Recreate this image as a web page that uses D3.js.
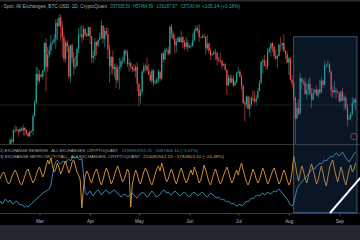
<!DOCTYPE html>
<html>
<head>
<meta charset="utf-8">
<script src="https://cdn.jsdelivr.net/npm/d3@7"></script>
<style>
  html, body { margin: 0; padding: 0; background: #000; overflow: hidden; }
</style>
</head>
<body>
<div id="chart"></div>
<script>
// BTC daily candles (k USD), first close is the open of the first candle (Feb 5, 2024)
const closes = [42.6,
  42.7, 43.1, 44.3, 45.3, 47.1, 47.8, 48.3,
  50.0, 49.7, 51.8, 52.0, 51.9, 51.6, 52.1,
  51.8, 52.3, 51.8, 51.3, 50.7, 51.6, 51.7,
  54.5, 57.1, 62.5, 61.2,
  62.4, 62.0, 63.1, 68.3, 63.8, 66.1, 66.9, 68.3, 68.5, 69.0,
  72.1, 71.5, 73.1, 71.4, 69.4, 65.3, 68.4, 67.6, 62.0, 67.9,
  65.5, 63.8, 64.0, 67.2, 69.9, 69.9, 69.4, 71.0, 69.9, 69.6, 71.3,
  69.6, 65.5, 65.9, 68.5, 67.8, 68.9, 69.4, 71.6, 69.1, 70.6,
  70.0, 67.1, 63.9, 65.7, 63.4, 63.8, 61.3, 63.5, 63.8, 64.9,
  64.9, 66.8, 66.4, 64.3, 64.5, 63.8, 63.4, 63.1, 63.8, 60.6,
  58.3, 59.1, 62.9, 63.9, 64.0, 63.2, 62.3, 61.2, 63.1, 60.8,
  60.8, 61.5, 62.9, 61.6, 66.3, 65.2, 67.0, 67.0, 66.3, 71.4,
  70.1, 69.1, 67.9, 68.5, 69.3, 68.5, 69.4, 68.4, 67.6, 68.4, 67.5,
  67.8, 67.8, 68.8, 70.6, 71.1, 70.8, 69.4, 69.3, 69.6, 69.5,
  67.3, 68.2, 66.8, 66.0, 66.2, 66.6, 66.5, 65.2, 65.0, 64.9,
  64.1, 64.3, 63.2, 60.3, 61.8, 60.9, 61.6, 60.3, 60.9, 62.7,
  62.9, 62.0, 60.2, 57.0, 56.7, 58.2, 55.9, 56.7, 57.9, 57.7,
  57.3, 57.9, 59.2, 60.8, 64.8, 65.0, 64.1, 63.9, 66.7, 67.2,
  68.2, 67.6, 65.9, 65.4, 65.8, 68.0, 67.9, 68.3, 66.8, 66.2, 64.6,
  65.4, 61.4, 60.7, 58.1, 54.0, 56.0, 55.0, 61.7, 60.9, 60.9,
  58.7, 59.4, 60.6, 58.7, 57.6, 58.9, 59.5, 58.4, 59.5, 59.0,
  61.2, 60.4, 64.1, 64.2, 64.2, 62.8, 59.4, 59.0, 59.4, 59.1, 58.9,
  57.3, 59.1, 57.5, 58.0, 56.2, 53.9, 54.2, 54.9, 57.0, 57.6, 57.1];

const highs = [
  43.5, 43.4, 44.5, 45.6, 48.2, 48.2, 48.6,
  50.3, 50.4, 52.0, 52.8, 52.6, 52.0, 52.4,
  52.4, 52.9, 52.4, 52.0, 51.5, 51.7, 51.9,
  54.9, 57.5, 63.9, 63.7,
  63.2, 62.5, 63.2, 68.5, 69.2, 67.6, 67.9, 69.9, 68.8, 70.0,
  72.8, 72.9, 73.6, 73.8, 72.4, 70.0, 68.8, 68.9, 68.1, 68.0,
  68.2, 66.6, 65.9, 67.6, 71.1, 71.5, 71.7, 71.5, 71.0, 70.3, 71.4,
  71.3, 69.6, 66.9, 69.3, 68.7, 69.0, 70.3, 72.7, 71.7, 71.2,
  71.3, 71.2, 67.9, 65.8, 66.9, 64.3, 64.5, 64.1, 65.5, 65.4,
  65.7, 67.2, 67.2, 67.0, 65.3, 64.8, 63.9, 64.4, 64.2, 64.7,
  60.8, 59.6, 63.3, 64.5, 64.4, 65.5, 64.3, 62.9, 63.4, 63.4,
  61.4, 61.8, 63.4, 63.0, 66.5, 66.7, 67.4, 67.4, 67.6, 71.5,
  71.9, 70.6, 70.0, 69.2, 69.6, 69.5, 70.6, 69.6, 68.9, 69.5, 69.0,
  67.9, 68.4, 70.2, 71.0, 71.7, 71.6, 71.9, 69.5, 69.9, 70.1,
  69.6, 69.9, 68.4, 67.3, 66.4, 66.9, 67.2, 66.6, 65.7, 66.5,
  65.1, 64.5, 64.5, 63.4, 62.3, 62.4, 62.3, 62.2, 61.2, 62.9,
  63.8, 63.3, 62.3, 60.5, 57.5, 58.4, 58.4, 58.2, 58.3, 59.4,
  59.2, 58.5, 59.8, 61.3, 64.9, 65.4, 66.1, 65.1, 67.4, 67.6,
  68.4, 68.5, 67.8, 67.1, 66.1, 68.2, 69.4, 68.3, 70.0, 66.9, 66.8,
  65.6, 65.6, 62.2, 61.1, 58.2, 57.0, 57.7, 62.7, 61.7, 61.4,
  61.8, 60.6, 61.5, 61.8, 59.8, 59.8, 59.6, 60.2, 59.6, 61.4,
  61.8, 61.4, 64.9, 64.5, 65.0, 64.5, 63.2, 60.2, 61.1, 59.9, 59.4,
  59.0, 59.4, 59.8, 58.5, 58.3, 56.9, 54.8, 55.3, 58.1, 58.0, 57.9];

const lows = [
  42.5, 42.6, 42.8, 44.3, 45.2, 46.8, 47.7,
  47.7, 48.3, 49.3, 51.3, 51.6, 50.6, 51.2,
  51.7, 50.8, 50.8, 50.9, 50.5, 50.6, 51.3,
  50.9, 54.4, 56.7, 60.4,
  60.8, 61.7, 61.4, 62.9, 59.2, 62.9, 65.6, 66.1, 68.0, 68.2,
  67.2, 68.8, 71.3, 68.6, 65.6, 64.8, 64.6, 66.6, 61.5, 60.8,
  64.5, 62.3, 63.3, 63.8, 66.4, 69.5, 68.4, 68.9, 69.6, 69.5, 69.6,
  68.1, 64.6, 64.5, 65.1, 66.0, 67.5, 68.8, 69.1, 68.2, 67.5,
  69.6, 65.3, 60.8, 62.3, 62.4, 61.8, 59.8, 60.8, 59.6, 63.2,
  64.3, 64.5, 65.8, 63.8, 62.8, 63.3, 62.8, 62.9, 61.8, 59.2,
  56.5, 56.9, 58.8, 62.6, 63.0, 62.9, 62.2, 60.9, 60.6, 60.2,
  60.5, 60.6, 60.8, 61.1, 61.3, 64.6, 65.1, 66.7, 65.9, 66.1,
  69.2, 68.9, 66.3, 66.6, 68.5, 68.4, 68.3, 67.3, 67.1, 67.2, 66.7,
  67.4, 67.3, 67.6, 68.6, 70.4, 70.2, 68.5, 69.2, 69.2, 69.2,
  66.1, 66.9, 66.3, 65.1, 65.9, 66.1, 65.1, 64.1, 64.7, 64.5,
  63.4, 63.9, 63.2, 58.5, 60.3, 60.7, 60.6, 60.0, 60.3, 60.7,
  62.5, 61.8, 59.5, 56.8, 53.5, 56.1, 55.8, 54.3, 56.4, 57.2,
  57.0, 56.6, 57.8, 59.2, 60.6, 62.6, 63.9, 63.3, 63.3, 66.4,
  65.8, 66.6, 65.4, 65.1, 63.5, 65.8, 66.7, 67.1, 66.6, 65.3, 64.5,
  62.3, 61.2, 59.9, 57.3, 49.0, 54.0, 54.6, 54.8, 59.6, 60.4,
  58.5, 57.7, 58.5, 58.4, 56.1, 57.5, 58.8, 58.4, 57.9, 58.6,
  58.8, 59.8, 60.3, 63.6, 63.8, 62.7, 58.1, 57.9, 58.8, 57.8, 58.8,
  57.2, 57.1, 57.4, 55.6, 55.7, 52.6, 53.8, 53.7, 54.6, 56.4, 55.6];

// Exchange reserve (M) and exchange netflow, one value per day from Feb 5
const reserve = [
  2147, 2149, 2146, 2148, 2151, 2149, 2148, 2150, 2147, 2146,
  2148, 2149, 2147, 2145, 2146, 2144, 2143, 2144, 2143, 2145,
  2146, 2148, 2149, 2151, 2152, 2154, 2155, 2157, 2158, 2159,
  2160, 2161, 2165, 2175, 2184, 2188, 2190, 2187, 2186, 2188,
  2189, 2187, 2190, 2191, 2189, 2192, 2193, 2192, 2194, 2191,
  2190, 2192, 2175, 2158, 2155, 2157, 2159, 2156, 2154, 2157,
  2159, 2160, 2158, 2155, 2157, 2159, 2160, 2158, 2156, 2158,
  2159, 2160, 2158, 2157, 2155, 2153, 2154, 2156, 2155, 2153,
  2154, 2156, 2157, 2155, 2153, 2152, 2154, 2156, 2158, 2157,
  2155, 2153, 2154, 2157, 2159, 2157, 2155, 2153, 2154, 2156,
  2158, 2160, 2159, 2157, 2158, 2156, 2155, 2157, 2159, 2158,
  2156, 2154, 2155, 2157, 2158, 2156, 2154, 2153, 2155, 2157,
  2158, 2156, 2154, 2155, 2157, 2158, 2156, 2154, 2153, 2155,
  2157, 2156, 2154, 2153, 2152, 2153, 2151, 2150, 2151, 2149,
  2148, 2149, 2147, 2146, 2147, 2145, 2144, 2145, 2146, 2144,
  2145, 2147, 2149, 2148, 2150, 2152, 2151, 2153, 2154, 2155,
  2154, 2156, 2157, 2155, 2156, 2158, 2157, 2156, 2158, 2159,
  2158, 2160, 2161, 2159, 2157, 2155, 2153, 2151, 2148, 2145,
  2144, 2146, 2154, 2161, 2164, 2166, 2168, 2170, 2172, 2174,
  2176, 2178, 2180, 2182, 2181, 2184, 2185, 2187, 2186, 2188,
  2190, 2189, 2191, 2192, 2194, 2193, 2195, 2197, 2196, 2194,
  2196, 2198, 2195, 2192, 2190, 2188, 2191, 2193, 2196, 2198];

const netflow = [
  -3, 0, 4, 6, 2, -3, -6, -4, 1, 5,
  8, 5, 0, -5, -7, -3, 2, 7, 9, 4,
  -1, -5, -2, 3, 8, 11, 6, 1, 5, 12,
  18, 14, 20, 12, 6, 9, 15, 10, 4, 8,
  13, 17, 11, 5, 9, 16, 18, 12, 6, 3,
  -2, -30, -10, 2, 7, 4, -2, -5, 1, 6,
  9, 4, -3, -7, -2, 5, 10, 6, 0, -6,
  -3, 3, 8, 12, 7, 1, -4, -1, 4, 9,
  5, -29, -6, 2, 8, 4, -3, -6, 0, 6,
  10, 7, 2, -4, -7, -2, 4, 9, 12, 7,
  15, 9, 2, -4, -1, 5, 9, 4, -2, -6,
  -1, 6, 10, 5, -1, -5, -2, 4, 8, 3,
  11, 7, 1, -5, -2, 5, 13, 8, 2, -4,
  -7, -1, 5, 9, 4, -2, -6, -3, 3, 7,
  11, 6, 0, -5, -2, 4, 8, 3, 10, 15,
  8, 2, -4, -7, -3, 3, 9, 5, -1, -5,
  -2, 4, 10, 6, 0, -6, -3, 2, 7, 10,
  5, -1, -6, -3, 3, 8, 4, -2, -7, -4,
  6, 22, 14, 4, -3, 5, 12, 7, 0, -5,
  2, 9, 14, 8, 1, -6, -2, 6, 12, 5,
  -3, -8, 1, 10, 15, 18, 9, 2, -4, 3,
  11, 6, -2, -7, 0, 8, 13, 6, 9, 15];

const monthTicks = ["2024-03-01", "2024-04-01", "2024-05-01", "2024-06-01", "2024-07-01", "2024-08-01", "2024-09-01"];
const priceLevel = 56.6;
const zoneStart = "2024-08-04";

const width = 360, height = 240;
const font = "'Liberation Sans', Arial, sans-serif";
const upColor = "#26a69a", downColor = "#ef5350";
const reserveColor = "#3f93bb", netflowColor = "#e39a3b";

const firstDay = new Date(2024, 1, 5);
const dates = highs.map((_, i) => d3.timeDay.offset(firstDay, i));
const candles = highs.map((h, i) => ({
  date: dates[i], open: closes[i], close: closes[i + 1], high: h, low: lows[i]
}));
const parseDay = d3.timeParse("%Y-%m-%d");

const svg = d3.select("#chart").append("svg")
  .attr("width", width)
  .attr("height", height)
  .style("display", "block")
  .style("font-family", font);

svg.append("rect").attr("width", width).attr("height", height).attr("fill", "#000");
svg.append("rect").attr("width", width).attr("height", 1.5).attr("fill", "#2e2e2e");

// Scales
const x = d3.scaleTime().domain([new Date(2024, 2, 1), new Date(2024, 8, 1)]).range([39.5, 339.3]);
const yPrice = d3.scaleLinear().domain([50, 75]).range([140, 7.6]);
const yReserve = d3.scaleLinear().domain([2135, 2200]).range([215, 150]);
const yNetflow = d3.scaleLinear().domain([-37, 28]).range([215, 150]);

const defs = svg.append("defs");
defs.append("clipPath").attr("id", "pricePane")
  .append("rect").attr("x", 0).attr("y", 0).attr("width", width).attr("height", 144);
defs.append("clipPath").attr("id", "lowerPane")
  .append("rect").attr("x", 0).attr("y", 145).attr("width", width).attr("height", 68.5);

// price pane
const pricePane = svg.append("g").attr("clip-path", "url(#pricePane)");

pricePane.append("line")
  .attr("x1", 0).attr("x2", width)
  .attr("y1", yPrice(priceLevel)).attr("y2", yPrice(priceLevel))
  .attr("stroke", "rgba(120,140,140,0.35)")
  .attr("stroke-width", 0.6);

const candle = pricePane.selectAll("g.candle")
  .data(candles)
  .join("g")
  .attr("class", "candle")
  .attr("fill", d => d.close >= d.open ? upColor : downColor)
  .attr("stroke", d => d.close >= d.open ? upColor : downColor);

candle.append("line")
  .attr("x1", d => x(d.date)).attr("x2", d => x(d.date))
  .attr("y1", d => yPrice(d.high)).attr("y2", d => yPrice(d.low))
  .attr("stroke-width", 0.6);

candle.append("rect")
  .attr("x", d => x(d.date) - 0.6)
  .attr("width", 1.2)
  .attr("y", d => yPrice(Math.max(d.open, d.close)))
  .attr("height", d => Math.max(0.5, Math.abs(yPrice(d.open) - yPrice(d.close))))
  .attr("stroke", "none");

// pane separator
svg.append("line")
  .attr("x1", 0).attr("x2", width).attr("y1", 144.5).attr("y2", 144.5)
  .attr("stroke", "#333").attr("stroke-width", 1);

// lower pane
const lowerPane = svg.append("g").attr("clip-path", "url(#lowerPane)");

lowerPane.append("path")
  .datum(reserve)
  .attr("d", d3.line().x((d, i) => x(dates[i])).y(d => yReserve(d)))
  .attr("fill", "none")
  .attr("stroke", reserveColor)
  .attr("stroke-width", 0.9);

lowerPane.append("path")
  .datum(netflow)
  .attr("d", d3.line().x((d, i) => x(dates[i])).y(d => yNetflow(d)))
  .attr("fill", "none")
  .attr("stroke", netflowColor)
  .attr("stroke-width", 0.9);

// x axis
const xAxis = d3.axisBottom(x)
  .tickValues(monthTicks.map(parseDay))
  .tickFormat(d3.timeFormat("%b"))
  .tickSize(2)
  .tickPadding(4)
  .tickSizeOuter(0);

const axis = svg.append("g")
  .attr("transform", "translate(0,213.5)")
  .call(xAxis);
axis.select(".domain").attr("stroke", "#3a3a3a").attr("d", `M0,0H${width}`);
axis.selectAll(".tick line").attr("stroke", "#555");
axis.selectAll(".tick text")
  .attr("fill", "#b2b5be")
  .style("font-size", "4.6px")
  .style("font-family", font);

// bottom toolbar
svg.append("rect").attr("x", 0).attr("y", 225).attr("width", width).attr("height", 15).attr("fill", "#23262e");

// highlighted zone
const zoneX = x(parseDay(zoneStart));
svg.append("rect")
  .attr("x", zoneX)
  .attr("y", 36.8)
  .attr("width", 357 - zoneX)
  .attr("height", 212.6 - 36.8)
  .attr("fill", "rgba(50,100,170,0.22)")
  .attr("stroke", "rgba(80,115,170,0.85)")
  .attr("stroke-width", 0.8);

svg.append("circle")
  .attr("cx", 354).attr("cy", 136.5).attr("r", 3.2)
  .attr("fill", "none")
  .attr("stroke", "#a3434a")
  .attr("stroke-width", 0.8);

svg.append("line")
  .attr("x1", 330).attr("y1", 213)
  .attr("x2", 361).attr("y2", 177)
  .attr("stroke", "#fff")
  .attr("stroke-width", 2);

// text labels
function label(xPos, yPos, str, len, color, size) {
  svg.append("text")
    .attr("x", xPos).attr("y", yPos)
    .attr("textLength", len)
    .attr("lengthAdjust", "spacingAndGlyphs")
    .attr("fill", color)
    .style("font-size", size + "px")
    .text(str);
}

const gray = "#a7aab3";
label(1, 8.4, "- Spot, All Exchanges, BTC-USD, 1D, CryptoQuant", 106, gray, 4.6);
label(110, 8.4, "O57035.50", 20, upColor, 4.6);
label(133, 8.4, "H57464.59", 20, upColor, 4.6);
label(157, 8.4, "L56187.97", 20, upColor, 4.6);
label(181, 8.4, "C57140.64", 19, upColor, 4.6);
label(202, 8.4, "+105.14 (+0.18%)", 38, upColor, 4.6);

label(0, 151.8, "2) EXCHANGE RESERVE - ALL EXCHANGES, CRYPTOQUANT", 118, gray, 4);
label(122, 151.8, "2198093701.25 \u22122087406.14 (\u22121.07%)", 76, reserveColor, 4);
label(0, 157.6, "3) EXCHANGE NETFLOW (TOTAL) - ALL EXCHANGES, CRYPTOQUANT", 140, gray, 4);
label(143, 157.6, "224082942.13 \u22121740803.10 (\u221224.48%)", 81, netflowColor, 4);
</script>
</body>
</html>
